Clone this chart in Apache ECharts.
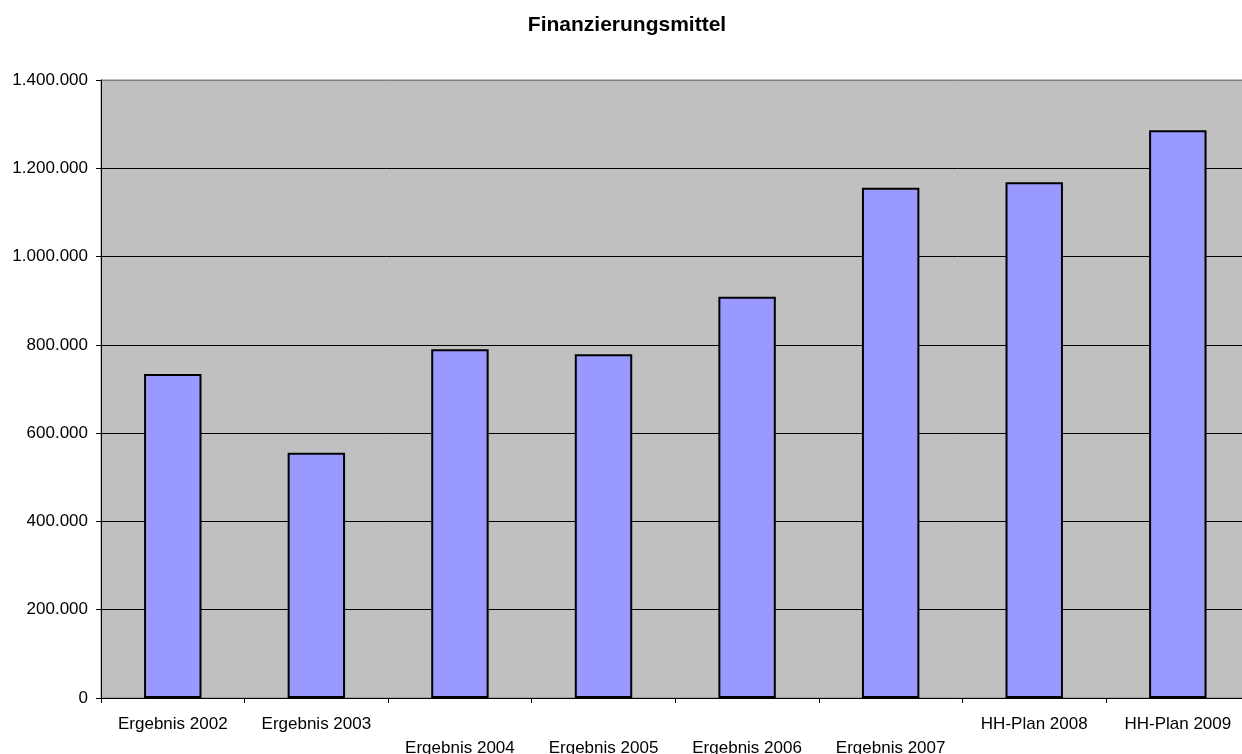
<!DOCTYPE html>
<html>
<head>
<meta charset="utf-8">
<script src="https://cdn.jsdelivr.net/npm/echarts@6/dist/echarts.min.js"></script>
<style>
html,body{margin:0;padding:0;background:#fff;}
#chart{width:1242px;height:754px;}
</style>
</head>
<body>
<div id="chart"></div>
<script>
const titleText = 'Finanzierungsmittel';
const categories = ['Ergebnis 2002','Ergebnis 2003','Ergebnis 2004','Ergebnis 2005','Ergebnis 2006','Ergebnis 2007','HH-Plan 2008','HH-Plan 2009'];
const values = [734000, 555700, 790000, 778600, 909100, 1156000, 1168200, 1286000];
const lowerRowIdx = [2,3,4,5];

function fmtNum(v){
  return String(v).replace(/\B(?=(\d{3})+(?!\d))/g, '.');
}

const chart = echarts.init(document.getElementById('chart'), null, {renderer:'canvas'});
chart.setOption({
  animation:false,
  backgroundColor:'#ffffff',
  textStyle:{fontFamily:'Liberation Sans, Arial, sans-serif'},
  title:{
    text:titleText, left:622, textAlign:'center', top:10,
    textStyle:{fontSize:21,fontWeight:'bold',color:'#000',fontFamily:'Liberation Sans, Arial, sans-serif'}
  },
  grid:{
    left:101, top:80, right:-7.6, bottom:56,
    outerBoundsMode:'none', containLabel:false,
    show:true, backgroundColor:'#C0C0C0', borderColor:'#808080', borderWidth:1
  },
  xAxis:{
    type:'category', data:categories,
    axisLine:{show:true,lineStyle:{color:'#000',width:1}},
    axisTick:{show:true,length:5,inside:false,lineStyle:{color:'#000'}},
    axisLabel:{
      interval:0, margin:14, fontSize:17, color:'#000', lineHeight:24,
      fontFamily:'Liberation Sans, Arial, sans-serif',
      formatter:function(v, i){ return lowerRowIdx.indexOf(i) >= 0 ? '\n' + v : v; }
    },
    splitLine:{show:false}
  },
  yAxis:{
    type:'value', min:0, max:1400000, interval:200000,
    axisLine:{show:true,lineStyle:{color:'#000',width:1}},
    axisTick:{show:true,length:5,lineStyle:{color:'#000'}},
    axisLabel:{margin:13,fontSize:17,color:'#000',fontFamily:'Liberation Sans, Arial, sans-serif',formatter:fmtNum},
    splitLine:{show:true,lineStyle:{color:['#000','#000','#000','#000','#000','#000','#000','#808080'],width:1}}
  },
  series:[{
    type:'bar', data:values, barWidth:'40%',
    itemStyle:{color:'#9999FF',borderColor:'#000',borderWidth:2}
  }]
});
</script>
</body>
</html>
